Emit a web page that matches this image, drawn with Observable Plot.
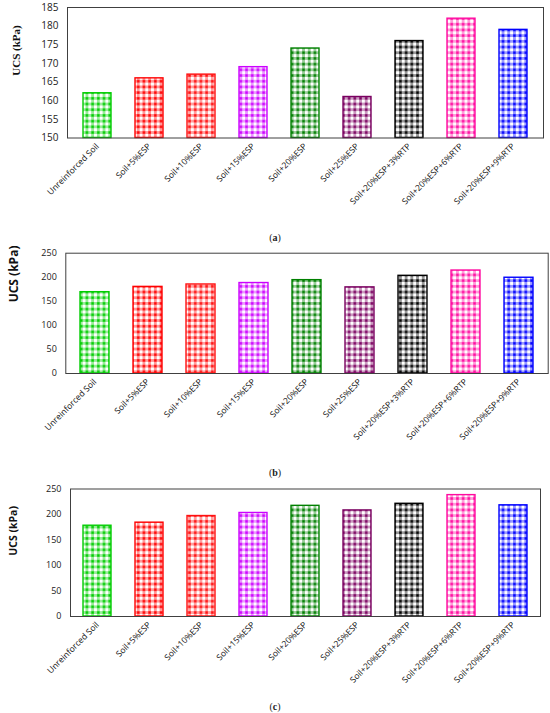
<!DOCTYPE html>
<html><head><meta charset="utf-8">
<script src="https://cdn.jsdelivr.net/npm/d3@7"></script>
<script src="https://cdn.jsdelivr.net/npm/@observablehq/plot@0.6"></script>
<style>
body{margin:0;background:#fff;}
#wrap{position:relative;width:550px;height:713px;overflow:hidden;background:#fff;}
.panel{position:absolute;left:0;}
.cap{position:absolute;left:0;width:550px;text-align:center;font-family:"Liberation Serif",serif;font-size:10px;color:#222;line-height:12px;}
</style></head><body><div id="wrap"></div>
<script>
const categories = ["Unreinforced Soil","Soil+5%ESP","Soil+10%ESP","Soil+15%ESP","Soil+20%ESP","Soil+25%ESP","Soil+20%ESP+3%RTP","Soil+20%ESP+6%RTP","Soil+20%ESP+9%RTP"];
const colors = ["#00cc00","#ff0000","#ff1010","#cc00ff","#008000","#7a0060","#000000","#ff0aa0","#0000ff"];
const valuesA = [162,166,167,169,174,161,176,182,179];
const valuesB = [169,180,185,188,194,179,203,214,199];
const valuesC = [178,184,197,203,217,208,221,238,218];
const domainA = [150,185];
const domainB = [0,250];
const domainC = [0,250];
const ticksA = [150,155,160,165,170,175,180,185];
const ticksB = [0,50,100,150,200,250];
const ticksC = [0,50,100,150,200,250];
const yTitle = "UCS (kPa)";
const captions = ["a","b","c"];

const wrap = document.getElementById("wrap");

function makePanel(cfg) {
  const id = cfg.id;
  const data = categories.map((c, i) => ({cat: c, v: cfg.values[i], col: colors[i], pat: `url(#pat-${id}-${i})`}));
  const svg = Plot.plot({
    width: 550,
    height: cfg.height,
    marginTop: cfg.mt, marginBottom: cfg.mb, marginLeft: cfg.ml, marginRight: cfg.mr,
    style: {fontFamily: "'Open Sans', sans-serif", background: "transparent", color: "#222", overflow: "visible"},
    color: {type: "identity"},
    x: {domain: categories, paddingInner: 0.46, paddingOuter: 0.23, label: null},
    y: {domain: cfg.domain, label: null},
    marks: [
      Plot.barY(data, {x: "cat", y1: cfg.domain[0], y2: "v", fill: "pat", stroke: "col", strokeWidth: 1.4, inset: 0}),
      Plot.frame({stroke: "#404040", strokeWidth: 1}),
      Plot.axisY({ticks: cfg.ticks, tickSize: 0, tickPadding: 9, fontSize: cfg.tickFont, label: null, fill: "#222"}),
      Plot.axisX({tickRotate: -45, tickSize: 0, tickPadding: 7, fontSize: 8.5, label: null, fill: "#111"}),
      Plot.text([yTitle], {frameAnchor: "left", dx: cfg.tdx, dy: cfg.tdy, rotate: -90, fontSize: cfg.titleSize, fontWeight: "bold", fontFamily: cfg.titleFamily, fill: "#111", text: d => d})
    ]
  });
  const defs = d3.select(svg).insert("defs", ":first-child");
  const s = 5.7, h = s / 2;
  colors.forEach((c, i) => {
    const p = defs.append("pattern").attr("id", `pat-${id}-${i}`).attr("patternUnits", "userSpaceOnUse")
      .attr("width", s).attr("height", s);
    p.append("rect").attr("width", s).attr("height", s).attr("fill", "#fff");
    p.append("rect").attr("x", 0).attr("y", 0).attr("width", h).attr("height", s).attr("fill", c).attr("fill-opacity", 0.4);
    p.append("rect").attr("x", 0).attr("y", 0).attr("width", s).attr("height", h).attr("fill", c).attr("fill-opacity", 0.4);
    p.append("rect").attr("x", 0.3).attr("y", 0.3).attr("width", h - 0.6).attr("height", h - 0.6).attr("fill", c);
  });
  svg.classList.add("panel");
  svg.style.top = cfg.top + "px";
  wrap.appendChild(svg);
  const cap = document.createElement("div");
  cap.className = "cap";
  cap.style.top = (cfg.capY - 6) + "px";
  cap.innerHTML = `(<b>${cfg.cap}</b>)`;
  wrap.appendChild(cap);
}

makePanel({id: "a", values: valuesA, domain: domainA, ticks: ticksA, top: 0, height: 215, mt: 7, mb: 77.5, ml: 67, mr: 7,
  tickFont: 10, titleSize: 11, titleFamily: "'Liberation Serif', serif", tdx: -51, tdy: 3, capY: 238, cap: captions[0]});
makePanel({id: "b", values: valuesB, domain: domainB, ticks: ticksB, top: 245, height: 215, mt: 7.7, mb: 87, ml: 65.3, mr: 2.3,
  tickFont: 9, titleSize: 12, titleFamily: "'Open Sans', sans-serif", tdx: -51.3, tdy: -11, capY: 473, cap: captions[1]});
makePanel({id: "c", values: valuesC, domain: domainC, ticks: ticksC, top: 480, height: 215, mt: 8.5, mb: 79, ml: 70, mr: 10,
  tickFont: 9, titleSize: 10.5, titleFamily: "'Open Sans', sans-serif", tdx: -57.3, tdy: 3, capY: 707, cap: captions[2]});
</script></body></html>
